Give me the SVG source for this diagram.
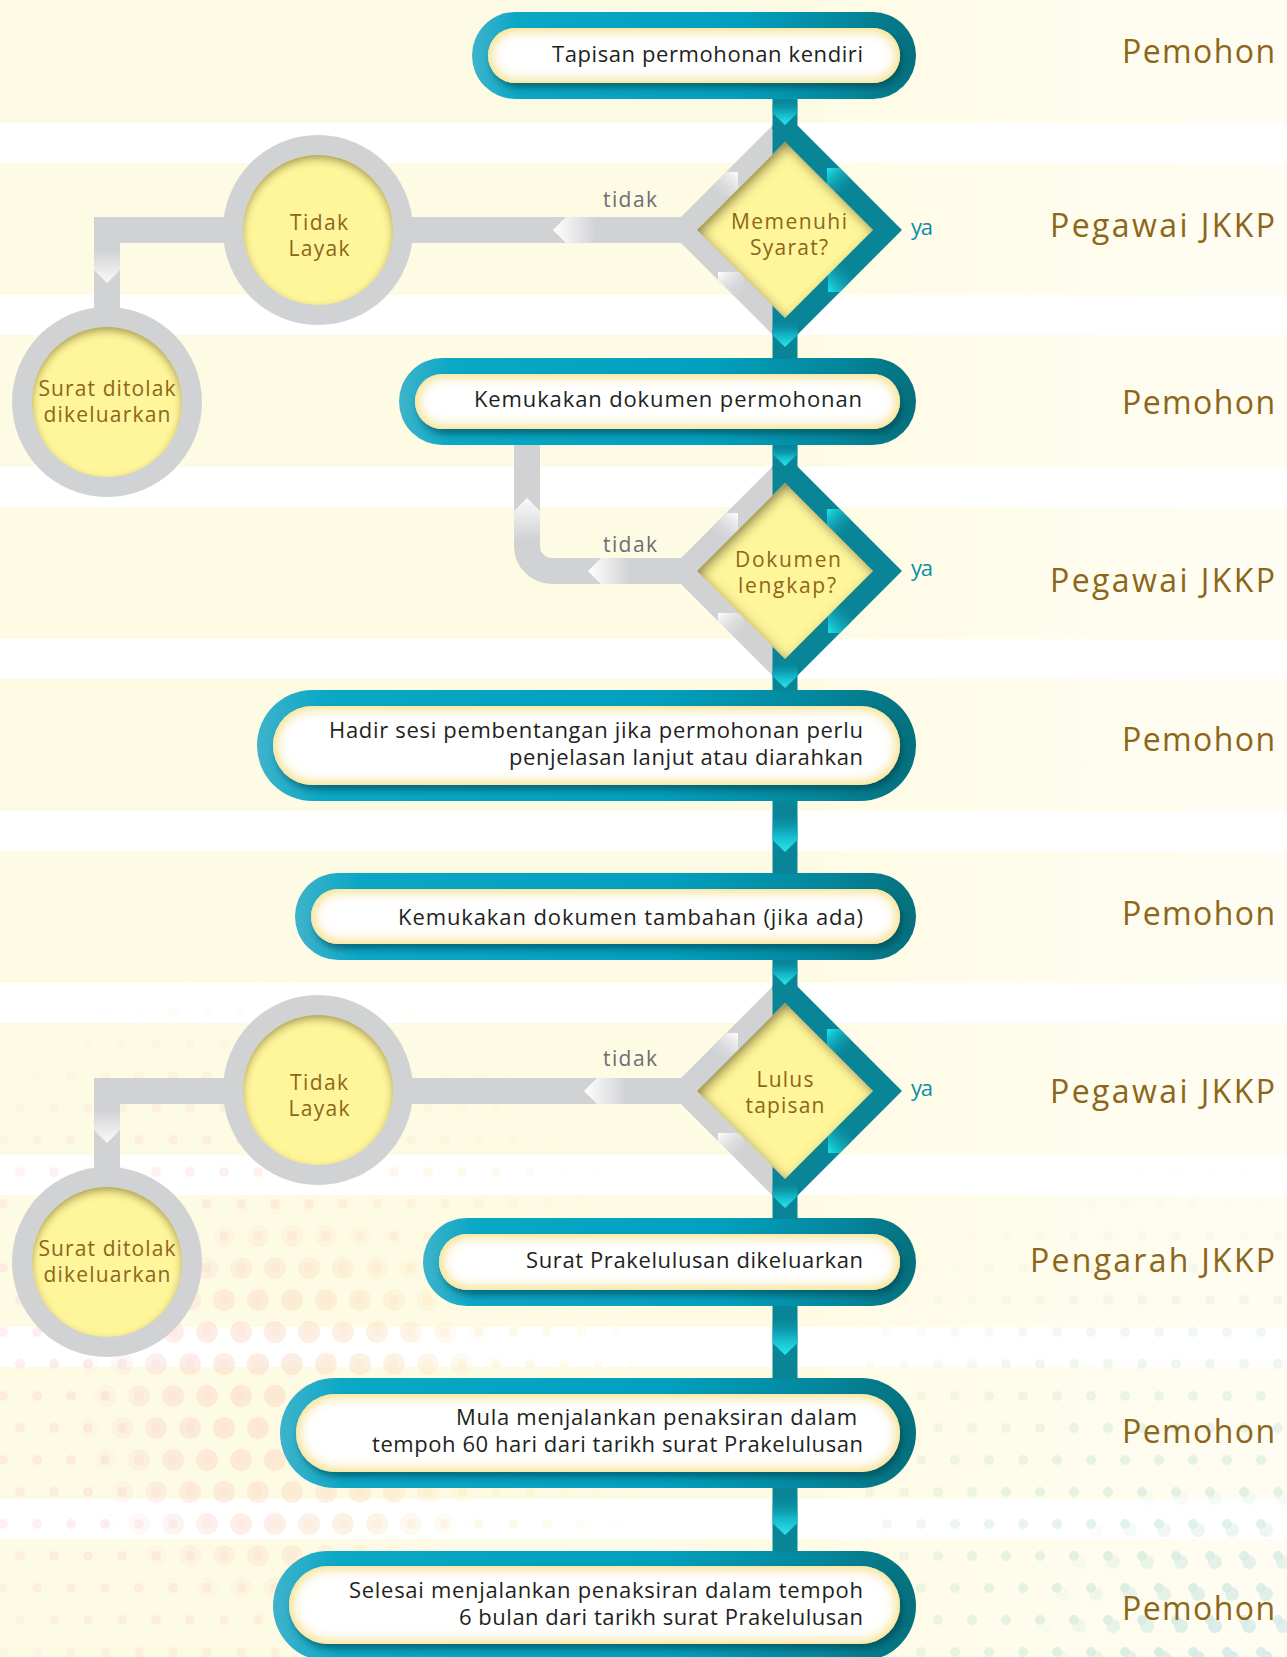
<svg xmlns="http://www.w3.org/2000/svg" width="1287" height="1657" viewBox="0 0 1287 1657">
<style>
 .f{font-family:"Open Sans","Liberation Sans","DejaVu Sans",sans-serif}
 .nt{font-size:22px;fill:#231f20;text-anchor:end}
 .lane{font-size:32px;fill:#8c6619;text-anchor:end}
 .br{font-size:21px;fill:#8c6619;text-anchor:middle}
 .tidak{font-size:21px;fill:#6d6e71;text-anchor:end}
 .ya{font-size:22px;fill:#0b8fa7}
 .outer{fill:url(#gOuter)}
 .inner{fill:#ffffff;filter:url(#pill)}
 .grey{fill:#d1d2d4}
 .teal{fill:#0a8598}
 .core{fill:#fff59a;filter:url(#insetC)}
 .dcore{fill:#fff59a;filter:url(#insetD)}
 .gline{fill:none;stroke:#d1d2d4;stroke-width:26;stroke-linejoin:miter}
 .spine{fill:#0a8598}
 .cy{fill:url(#gCyan)}
</style>
<defs>
 <linearGradient id="band" gradientUnits="userSpaceOnUse" x1="0" y1="0" x2="1287" y2="0">
  <stop offset="0" stop-color="#fefbe5"/><stop offset="0.6" stop-color="#fefbe4"/><stop offset="1" stop-color="#fffdf3"/>
 </linearGradient>
 <linearGradient id="gOuter" x1="0" y1="0" x2="1" y2="0">
  <stop offset="0" stop-color="#3fb3cb"/><stop offset="0.1" stop-color="#0ba8c6"/><stop offset="0.6" stop-color="#02a0be"/><stop offset="0.86" stop-color="#04869b"/><stop offset="1" stop-color="#05707d"/>
 </linearGradient>
 <linearGradient id="gCyan" x1="0" y1="0" x2="0" y2="1">
  <stop offset="0" stop-color="#0a8598" stop-opacity="0"/><stop offset="0.55" stop-color="#12b4c6"/><stop offset="1" stop-color="#2ae6ef"/>
 </linearGradient>
 <linearGradient id="gChevL" x1="0" y1="0" x2="1" y2="0">
  <stop offset="0" stop-color="#ffffff"/><stop offset="1" stop-color="#d1d2d4"/>
 </linearGradient>
 <linearGradient id="gChevD" x1="0" y1="0" x2="0" y2="1">
  <stop offset="0" stop-color="#d1d2d4"/><stop offset="1" stop-color="#fafafa"/>
 </linearGradient>
 <linearGradient id="gChevU" x1="0" y1="0" x2="0" y2="1">
  <stop offset="0" stop-color="#fafafa"/><stop offset="1" stop-color="#d1d2d4"/>
 </linearGradient>
 <linearGradient id="gWUL" x1="0" y1="1" x2="1" y2="0">
  <stop offset="0" stop-color="#d1d2d4" stop-opacity="0"/><stop offset="1" stop-color="#ffffff"/>
 </linearGradient>
 <linearGradient id="gWLL" x1="0" y1="0" x2="1" y2="1">
  <stop offset="0" stop-color="#ffffff"/><stop offset="1" stop-color="#d1d2d4" stop-opacity="0"/>
 </linearGradient>
 <linearGradient id="gCUR" x1="0" y1="0" x2="1" y2="1">
  <stop offset="0" stop-color="#1de8f0"/><stop offset="1" stop-color="#0a8598" stop-opacity="0"/>
 </linearGradient>
 <linearGradient id="gCLR" x1="0" y1="1" x2="1" y2="0">
  <stop offset="0" stop-color="#1de8f0"/><stop offset="1" stop-color="#0a8598" stop-opacity="0"/>
 </linearGradient>
 <filter id="pill" x="-5%" y="-30%" width="112%" height="170%">
  <feGaussianBlur in="SourceAlpha" stdDeviation="3.5"/>
  <feOffset dx="3" dy="5" result="so"/>
  <feFlood flood-color="#02414b" flood-opacity="0.6"/>
  <feComposite in2="so" operator="in" result="shadow"/>
  <feFlood flood-color="#f6e070" result="yf"/>
  <feComposite in="yf" in2="SourceAlpha" operator="out" result="yo"/>
  <feGaussianBlur in="yo" stdDeviation="7" result="yb"/>
  <feComposite in="yb" in2="SourceAlpha" operator="in" result="glow"/>
  <feMerge><feMergeNode in="shadow"/><feMergeNode in="SourceGraphic"/><feMergeNode in="glow"/><feMergeNode in="glow"/></feMerge>
 </filter>
 <filter id="insetC" x="-20%" y="-20%" width="140%" height="140%">
  <feFlood flood-color="#6b5a18" flood-opacity="0.75" result="f"/>
  <feComposite in="f" in2="SourceAlpha" operator="out" result="o"/>
  <feGaussianBlur in="o" stdDeviation="4"/>
  <feOffset dx="0" dy="4" result="b"/>
  <feComposite in="b" in2="SourceAlpha" operator="in" result="s"/>
  <feMerge><feMergeNode in="SourceGraphic"/><feMergeNode in="s"/></feMerge>
 </filter>
 <filter id="insetD" x="-20%" y="-20%" width="140%" height="140%">
  <feFlood flood-color="#5a4a10" flood-opacity="0.85" result="f"/>
  <feComposite in="f" in2="SourceAlpha" operator="out" result="o"/>
  <feGaussianBlur in="o" stdDeviation="6"/>
  <feOffset dx="3" dy="4" result="b"/>
  <feComposite in="b" in2="SourceAlpha" operator="in" result="s"/>
  <feMerge><feMergeNode in="SourceGraphic"/><feMergeNode in="s"/></feMerge>
 </filter>
 <clipPath id="cd1"><polygon points="785,113 902,230 785,347 668,230"/></clipPath>
 <clipPath id="cd2"><polygon points="785,454 902,571 785,688 668,571"/></clipPath>
 <clipPath id="cd3"><polygon points="785,974 902,1091 785,1208 668,1091"/></clipPath>
 <pattern id="dotBig" width="34" height="64" patternUnits="userSpaceOnUse" x="3" y="4">
  <circle cx="17" cy="16" r="11" fill="#fff"/><circle cx="0" cy="48" r="11" fill="#fff"/><circle cx="34" cy="48" r="11" fill="#fff"/>
 </pattern>
 <pattern id="dotSmall" width="34" height="64" patternUnits="userSpaceOnUse" x="3" y="4">
  <circle cx="17" cy="16" r="5" fill="#fff"/><circle cx="0" cy="48" r="5" fill="#fff"/><circle cx="34" cy="48" r="5" fill="#fff"/>
 </pattern>
 <pattern id="dotMid" width="34" height="64" patternUnits="userSpaceOnUse" x="8" y="10">
  <circle cx="17" cy="16" r="7" fill="#fff"/><circle cx="0" cy="48" r="7" fill="#fff"/><circle cx="34" cy="48" r="7" fill="#fff"/>
 </pattern>
 <radialGradient id="fWB" gradientUnits="userSpaceOnUse" cx="290" cy="1410" r="220">
  <stop offset="0" stop-color="#fff" stop-opacity="1"/><stop offset="0.6" stop-color="#fff" stop-opacity="0.7"/><stop offset="1" stop-color="#fff" stop-opacity="0"/>
 </radialGradient>
 <radialGradient id="fWS" gradientUnits="userSpaceOnUse" cx="250" cy="1390" r="420">
  <stop offset="0" stop-color="#fff" stop-opacity="1"/><stop offset="0.7" stop-color="#fff" stop-opacity="0.5"/><stop offset="1" stop-color="#fff" stop-opacity="0"/>
 </radialGradient>
 <radialGradient id="fGB" gradientUnits="userSpaceOnUse" cx="1230" cy="1660" r="200">
  <stop offset="0" stop-color="#fff" stop-opacity="1"/><stop offset="0.6" stop-color="#fff" stop-opacity="0.6"/><stop offset="1" stop-color="#fff" stop-opacity="0"/>
 </radialGradient>
 <radialGradient id="fGS" gradientUnits="userSpaceOnUse" cx="1180" cy="1620" r="460">
  <stop offset="0" stop-color="#fff" stop-opacity="1"/><stop offset="0.7" stop-color="#fff" stop-opacity="0.45"/><stop offset="1" stop-color="#fff" stop-opacity="0"/>
 </radialGradient>
 <mask id="mfWB"><rect x="0" y="950" width="700" height="707" fill="url(#fWB)"/></mask>
 <mask id="mfWS"><rect x="0" y="950" width="700" height="707" fill="url(#fWS)"/></mask>
 <mask id="mfGB"><rect x="860" y="1100" width="427" height="557" fill="url(#fGB)"/></mask>
 <mask id="mfGS"><rect x="860" y="1100" width="427" height="557" fill="url(#fGS)"/></mask>
 <mask id="mWarm">
  <rect x="0" y="950" width="700" height="707" fill="url(#dotSmall)" mask="url(#mfWS)"/>
  <rect x="0" y="950" width="700" height="707" fill="url(#dotBig)" mask="url(#mfWB)"/>
 </mask>
 <mask id="mGreen">
  <rect x="860" y="1100" width="427" height="557" fill="url(#dotSmall)" mask="url(#mfGS)"/>
  <rect x="860" y="1100" width="427" height="557" fill="url(#dotMid)" mask="url(#mfGB)"/>
 </mask>
 <linearGradient id="warmCol" gradientUnits="userSpaceOnUse" x1="0" y1="0" x2="650" y2="0">
  <stop offset="0" stop-color="#f6c6d4"/><stop offset="0.4" stop-color="#fad4bf"/><stop offset="0.8" stop-color="#f8e8ae"/><stop offset="1" stop-color="#f5efb8"/>
 </linearGradient>
 <linearGradient id="greenCol" gradientUnits="userSpaceOnUse" x1="950" y1="1200" x2="1250" y2="1650">
  <stop offset="0" stop-color="#d7e8b5"/><stop offset="1" stop-color="#b3dde0"/>
 </linearGradient>
</defs>

<g id="background">
 <rect x="0" y="0" width="1287" height="1657" fill="#ffffff"/>
 <g fill="url(#band)">
  <rect x="0" y="-9" width="1287" height="132"/>
  <rect x="0" y="163" width="1287" height="132"/>
  <rect x="0" y="335" width="1287" height="132"/>
  <rect x="0" y="507" width="1287" height="132"/>
  <rect x="0" y="679" width="1287" height="132"/>
  <rect x="0" y="851" width="1287" height="132"/>
  <rect x="0" y="1023" width="1287" height="132"/>
  <rect x="0" y="1195" width="1287" height="132"/>
  <rect x="0" y="1367" width="1287" height="132"/>
  <rect x="0" y="1539" width="1287" height="132"/>
 </g>
 <rect x="0" y="950" width="700" height="707" fill="url(#warmCol)" mask="url(#mWarm)" opacity="0.5"/>
 <rect x="860" y="1100" width="427" height="557" fill="url(#greenCol)" mask="url(#mGreen)" opacity="0.55"/>
</g>

<g id="lanes" class="f">
 <text class="lane" x="1275" y="62.5" textLength="153">Pemohon</text>
 <text class="lane" x="1275" y="236.5" textLength="225">Pegawai JKKP</text>
 <text class="lane" x="1275" y="413.5" textLength="153">Pemohon</text>
 <text class="lane" x="1275" y="591.5" textLength="225">Pegawai JKKP</text>
 <text class="lane" x="1275" y="750.5" textLength="153">Pemohon</text>
 <text class="lane" x="1275" y="924.5" textLength="153">Pemohon</text>
 <text class="lane" x="1275" y="1102.5" textLength="225">Pegawai JKKP</text>
 <text class="lane" x="1275" y="1271.5" textLength="245">Pengarah JKKP</text>
 <text class="lane" x="1275" y="1442.5" textLength="153">Pemohon</text>
 <text class="lane" x="1275" y="1619.5" textLength="153">Pemohon</text>
</g>

<g id="n-tapisan">
 <rect class="outer" x="472" y="12" width="444" height="87" rx="43.5"/>
 <rect class="inner" x="488" y="28" width="412" height="55" rx="27.5"/>
 <text class="f nt" x="863" y="62" textLength="311">Tapisan permohonan kendiri</text>
</g>

<g id="d-memenuhi">
 <polygon class="grey" points="785,113 668,230 785,347"/>
 <polygon class="teal" points="772.5,125.5 785,113 902,230 785,347 772.5,334.5"/>
 <g clip-path="url(#cd1)">
  <rect x="712" y="172" width="26" height="24" fill="url(#gWUL)"/>
  <rect x="718" y="272" width="26" height="24" fill="url(#gWLL)"/>
  <rect x="827" y="168" width="24" height="24" fill="url(#gCUR)"/>
  <rect x="828" y="266" width="24" height="26" fill="url(#gCLR)"/>
 </g>
 <polygon class="dcore" points="785,142 873,230 785,318 697,230"/>
 <text class="f br" x="789" y="229" textLength="116">Memenuhi</text>
 <text class="f br" x="789" y="255" textLength="78">Syarat?</text>
</g>

<g id="c-tidaklayak1">
 <circle class="grey" cx="318" cy="230" r="95"/>
 <circle class="core" cx="318" cy="230" r="75"/>
 <text class="f br" x="319" y="230" textLength="58">Tidak</text>
 <text class="f br" x="319" y="256" textLength="61">Layak</text>
</g>

<g id="c-ditolak1">
 <circle class="grey" cx="107" cy="402" r="95"/>
 <circle class="core" cx="107" cy="402" r="75"/>
 <text class="f br" x="107" y="396" textLength="137">Surat ditolak</text>
 <text class="f br" x="107" y="422" textLength="127">dikeluarkan</text>
</g>

<g id="n-kemukakan">
 <rect class="outer" x="399" y="358" width="517" height="87" rx="43.5"/>
 <rect class="inner" x="415" y="374" width="485" height="55" rx="27.5"/>
 <text class="f nt" x="862" y="407" textLength="388">Kemukakan dokumen permohonan</text>
</g>

<g id="d-dokumen">
 <polygon class="grey" points="785,454 668,571 785,688"/>
 <polygon class="teal" points="772.5,466.5 785,454 902,571 785,688 772.5,675.5"/>
 <g clip-path="url(#cd2)">
  <rect x="712" y="513" width="26" height="24" fill="url(#gWUL)"/>
  <rect x="718" y="613" width="26" height="24" fill="url(#gWLL)"/>
  <rect x="827" y="509" width="24" height="24" fill="url(#gCUR)"/>
  <rect x="828" y="607" width="24" height="26" fill="url(#gCLR)"/>
 </g>
 <polygon class="dcore" points="785,483 873,571 785,659 697,571"/>
 <text class="f br" x="788" y="567" textLength="106">Dokumen</text>
 <text class="f br" x="787" y="593" textLength="98">lengkap?</text>
</g>

<g id="n-hadir">
 <rect class="outer" x="257" y="690" width="659" height="111" rx="55.5"/>
 <rect class="inner" x="273" y="706" width="627" height="79" rx="39.5"/>
 <text class="f nt" x="863" y="738" textLength="534">Hadir sesi pembentangan jika permohonan perlu</text>
 <text class="f nt" x="863" y="765" textLength="354">penjelasan lanjut atau diarahkan</text>
</g>

<g id="n-tambahan">
 <rect class="outer" x="295" y="873" width="621" height="87" rx="43.5"/>
 <rect class="inner" x="311" y="889" width="589" height="55" rx="27.5"/>
 <text class="f nt" x="863" y="925" textLength="465">Kemukakan dokumen tambahan (jika ada)</text>
</g>

<g id="d-lulus">
 <polygon class="grey" points="785,974 668,1091 785,1208"/>
 <polygon class="teal" points="772.5,986.5 785,974 902,1091 785,1208 772.5,1195.5"/>
 <g clip-path="url(#cd3)">
  <rect x="712" y="1033" width="26" height="24" fill="url(#gWUL)"/>
  <rect x="718" y="1133" width="26" height="24" fill="url(#gWLL)"/>
  <rect x="827" y="1029" width="24" height="24" fill="url(#gCUR)"/>
  <rect x="828" y="1127" width="24" height="26" fill="url(#gCLR)"/>
 </g>
 <polygon class="dcore" points="785,1003 873,1091 785,1179 697,1091"/>
 <text class="f br" x="785" y="1087" textLength="57">Lulus</text>
 <text class="f br" x="785" y="1113" textLength="79">tapisan</text>
</g>

<g id="c-tidaklayak2">
 <circle class="grey" cx="318" cy="1090" r="95"/>
 <circle class="core" cx="318" cy="1090" r="75"/>
 <text class="f br" x="319" y="1090" textLength="58">Tidak</text>
 <text class="f br" x="319" y="1116" textLength="61">Layak</text>
</g>

<g id="c-ditolak2">
 <circle class="grey" cx="107" cy="1262" r="95"/>
 <circle class="core" cx="107" cy="1262" r="75"/>
 <text class="f br" x="107" y="1256" textLength="137">Surat ditolak</text>
 <text class="f br" x="107" y="1282" textLength="127">dikeluarkan</text>
</g>

<g id="n-prakelulusan">
 <rect class="outer" x="423" y="1218" width="493" height="88" rx="44"/>
 <rect class="inner" x="439" y="1234" width="461" height="56" rx="28"/>
 <text class="f nt" x="863" y="1268" textLength="337">Surat Prakelulusan dikeluarkan</text>
</g>

<g id="n-mula">
 <rect class="outer" x="280" y="1378" width="636" height="110" rx="55"/>
 <rect class="inner" x="296" y="1394" width="604" height="78" rx="39"/>
 <text class="f nt" x="857" y="1425" textLength="401">Mula menjalankan penaksiran dalam</text>
 <text class="f nt" x="863" y="1452" textLength="491">tempoh 60 hari dari tarikh surat Prakelulusan</text>
</g>

<g id="n-selesai">
 <rect class="outer" x="273" y="1551" width="643" height="110" rx="55"/>
 <rect class="inner" x="289" y="1566" width="611" height="78" rx="39"/>
 <text class="f nt" x="863" y="1598" textLength="514">Selesai menjalankan penaksiran dalam tempoh</text>
 <text class="f nt" x="863" y="1625" textLength="404">6 bulan dari tarikh surat Prakelulusan</text>
</g>

<g id="connectors">
 <rect class="spine" x="772.5" y="99" width="25" height="31"/>
 <rect class="spine" x="772.5" y="330" width="25" height="29"/>
 <rect class="spine" x="772.5" y="445" width="25" height="25"/>
 <rect class="spine" x="772.5" y="673" width="25" height="18"/>
 <rect class="spine" x="772.5" y="801" width="25" height="73"/>
 <rect class="spine" x="772.5" y="960" width="25" height="30"/>
 <rect class="spine" x="772.5" y="1193" width="25" height="26"/>
 <rect class="spine" x="772.5" y="1306" width="25" height="73"/>
 <rect class="spine" x="772.5" y="1488" width="25" height="64"/>
 <polygon class="cy" points="772.5,99 797.5,99 797.5,113 785,125 772.5,113"/>
 <polygon class="cy" points="772.5,320 797.5,320 797.5,335 785,347 772.5,335"/>
 <polygon class="cy" points="772.5,445 797.5,445 797.5,454 785,466 772.5,454"/>
 <polygon class="cy" points="772.5,661 797.5,661 797.5,676 785,688 772.5,676"/>
 <polygon class="cy" points="772.5,812 797.5,812 797.5,840 785,852 772.5,840"/>
 <polygon class="cy" points="772.5,960 797.5,960 797.5,973 785,985 772.5,973"/>
 <polygon class="cy" points="772.5,1181 797.5,1181 797.5,1196 785,1208 772.5,1196"/>
 <polygon class="cy" points="772.5,1315 797.5,1315 797.5,1343 785,1355 772.5,1343"/>
 <polygon class="cy" points="772.5,1495 797.5,1495 797.5,1523 785,1535 772.5,1523"/>
 <rect class="grey" x="410" y="217" width="280" height="26"/>
 <path class="gline" d="M226,230 H107 V310"/>
 <path class="gline" d="M527,445 V546 A25,25 0 0 0 552,571 H690" style="stroke-linejoin:round"/>
 <rect class="grey" x="410" y="1078" width="280" height="26"/>
 <path class="gline" d="M226,1091 H107 V1170"/>
 <polygon fill="url(#gChevL)" points="553,230 566,217 596,217 596,243 566,243"/>
 <polygon fill="url(#gChevL)" points="588,571 601,558 630,558 630,584 601,584"/>
 <polygon fill="url(#gChevL)" points="584,1091 597,1078 626,1078 626,1104 597,1104"/>
 <polygon fill="url(#gChevU)" points="527,498 540,511 540,540 514,540 514,511"/>
 <polygon fill="url(#gChevD)" points="94,250 120,250 120,270 107,283 94,270"/>
 <polygon fill="url(#gChevD)" points="94,1110 120,1110 120,1130 107,1143 94,1130"/>
 <text class="f tidak" x="657" y="207" textLength="54">tidak</text>
 <text class="f tidak" x="657" y="552" textLength="54">tidak</text>
 <text class="f tidak" x="657" y="1066" textLength="54">tidak</text>
 <text class="f ya" x="911" y="235" textLength="22">ya</text>
 <text class="f ya" x="911" y="576" textLength="22">ya</text>
 <text class="f ya" x="911" y="1096" textLength="22">ya</text>
</g>
</svg>
